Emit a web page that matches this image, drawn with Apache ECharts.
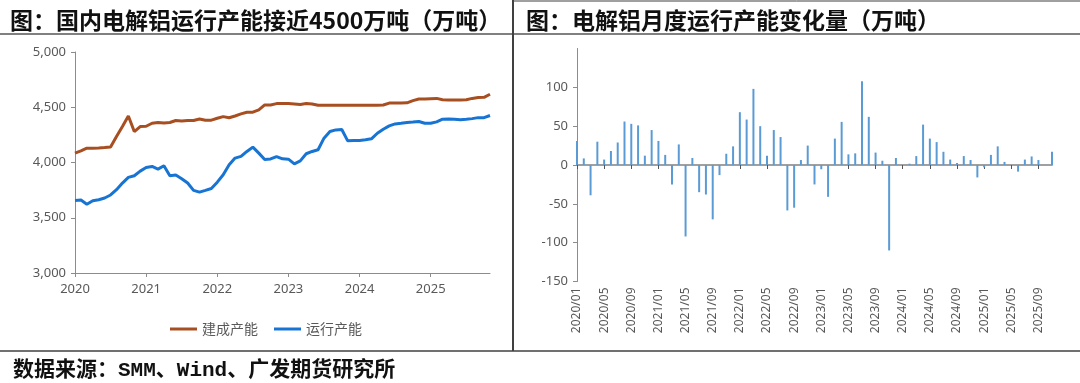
<!DOCTYPE html>
<html><head><meta charset="utf-8">
<script src="https://cdn.jsdelivr.net/npm/echarts@6/dist/echarts.min.js"></script>
<style>html,body{margin:0;padding:0;background:#fff}#c{width:1080px;height:383px}</style>
</head><body><div id="c"></div>
<script>
const months = [
'2020/01','2020/02','2020/03','2020/04','2020/05','2020/06','2020/07','2020/08','2020/09','2020/10','2020/11','2020/12',
'2021/01','2021/02','2021/03','2021/04','2021/05','2021/06','2021/07','2021/08','2021/09','2021/10','2021/11','2021/12',
'2022/01','2022/02','2022/03','2022/04','2022/05','2022/06','2022/07','2022/08','2022/09','2022/10','2022/11','2022/12',
'2023/01','2023/02','2023/03','2023/04','2023/05','2023/06','2023/07','2023/08','2023/09','2023/10','2023/11','2023/12',
'2024/01','2024/02','2024/03','2024/04','2024/05','2024/06','2024/07','2024/08','2024/09','2024/10','2024/11','2024/12',
'2025/01','2025/02','2025/03','2025/04','2025/05','2025/06','2025/07','2025/08','2025/09','2025/10','2025/11'];

const builtCapacity = [
4085,4105,4130,4130,4132,4135,4140,4235,4325,4421,4280,4325,
4328,4355,4362,4358,4362,4380,4375,4380,4380,4394,4383,4383,
4400,4415,4405,4421,4440,4455,4455,4476,4521,4521,4533,4533,
4533,4530,4525,4533,4530,4518,4518,4518,4518,4518,4518,4518,
4518,4518,4518,4518,4520,4538,4538,4538,4540,4560,4575,4575,
4578,4580,4568,4566,4566,4566,4568,4580,4588,4590,4618];

const runningCapacity = [
3657,3660,3622,3654,3663,3679,3706,3754,3814,3865,3880,3922,
3955,3964,3940,3970,3880,3886,3853,3814,3748,3732,3748,3765,
3822,3889,3979,4040,4055,4100,4139,4085,4028,4032,4054,4033,
4030,3988,4015,4079,4100,4115,4220,4280,4295,4298,4196,4199,
4200,4205,4214,4265,4301,4331,4349,4355,4362,4366,4371,4355,
4355,4368,4392,4394,4391,4386,4391,4397,4406,4406,4425];

const monthlyChange = [
31,8.5,-39,30,7,18,29,56,53,51,12,45,
31,13,-25,26.5,-92,9,-35,-38,-70,-13,14.5,24,
68,58.5,98,50,12,45,36,-58.5,-55,6.4,25,-25,
-5.5,-41,34,55.5,13.7,15,107.7,62,16,5.5,-110,9,
0,1.7,11.5,52,34,29.5,17,7,2.6,11.5,6.4,-16,
-3,13,24,4,0,-8.5,7,11,6.4,0,17];

const seriesNames = ['建成产能','运行产能'];
const titleLeft = '图：国内电解铝运行产能接近4500万吨（万吨）';
const titleRight = '图：电解铝月度运行产能变化量（万吨）';
const sourceText = '数据来源：SMM、Wind、广发期货研究所';

const chart = echarts.init(document.getElementById('c'), null, {renderer:'canvas'});
const labelColor = '#595959';
const axisColor = '#8c8c8c';
const cjk = '"Noto Sans CJK SC", "Noto Sans", sans-serif';
const yearIdx = (i) => i % 12 === 0;

const option = {
  animation: false,
  backgroundColor: '#fff',
  title: [
    {text: titleLeft, left: 5, top: 4, textStyle: {fontSize: 23, fontWeight: 'bold', color: '#111', fontFamily: cjk}},
    {text: titleRight, left: 521, top: 4, textStyle: {fontSize: 23, fontWeight: 'bold', color: '#111', fontFamily: cjk}},
    {text: sourceText, left: 8, top: 355, textStyle: {fontSize: 21, fontWeight: 'bold', color: '#111', fontFamily: '"Liberation Mono", "Noto Sans CJK SC", monospace'}}
  ],
  graphic: [
    {type: 'line', shape: {x1: 0, y1: 34, x2: 1080, y2: 34}, style: {stroke: '#808080', lineWidth: 2}, silent: true},
    {type: 'line', shape: {x1: 513, y1: 0, x2: 513, y2: 351}, style: {stroke: '#404040', lineWidth: 2}, silent: true},
    {type: 'line', shape: {x1: 0, y1: 351, x2: 1080, y2: 351}, style: {stroke: '#404040', lineWidth: 1.5}, silent: true},
    {type: 'line', shape: {x1: 513, y1: 1, x2: 1080, y2: 1}, style: {stroke: '#404040', lineWidth: 1}, silent: true}
  ],
  legend: {
    data: seriesNames, left: 165, top: 317, icon: 'rect', itemWidth: 27, itemHeight: 3, itemGap: 16,
    textStyle: {fontSize: 14, color: labelColor, fontFamily: cjk}
  },
  grid: [
    {left: 75, top: 52, width: 415, height: 221},
    {left: 577, top: 48.5, width: 475, height: 233}
  ],
  xAxis: [
    {gridIndex: 0, type: 'category', data: months, boundaryGap: false,
     axisLine: {lineStyle: {color: axisColor, width: 1}},
     axisTick: {interval: yearIdx, length: 4, lineStyle: {color: axisColor}},
     axisLabel: {interval: yearIdx, formatter: (v) => v.slice(0, 4), color: labelColor, fontSize: 13, margin: 10, fontFamily: '"Noto Sans", sans-serif'}},
    {gridIndex: 1, type: 'category', data: months, boundaryGap: false,
     axisLine: {onZero: true, lineStyle: {color: '#a0a0a0', width: 2}},
     axisTick: {interval: 3, length: 4, lineStyle: {color: '#555'}},
     axisLabel: {show: false}},
    {gridIndex: 1, type: 'category', data: months, boundaryGap: false, position: 'bottom',
     axisLine: {show: false, onZero: false}, axisTick: {show: false},
     axisLabel: {interval: 3, rotate: 90, color: labelColor, fontSize: 12, margin: 6, fontFamily: '"Noto Sans", sans-serif'}}
  ],
  yAxis: [
    {gridIndex: 0, type: 'value', min: 3000, max: 5000, interval: 500,
     axisLine: {show: true, lineStyle: {color: axisColor}},
     axisTick: {show: true, length: 4, lineStyle: {color: axisColor}},
     splitLine: {show: false},
     axisLabel: {formatter: (v) => v.toLocaleString('en-US'), color: labelColor, fontSize: 13, margin: 9, fontFamily: '"Noto Sans", sans-serif'}},
    {gridIndex: 1, type: 'value', min: -150, max: 150, interval: 50,
     axisLine: {show: true, lineStyle: {color: axisColor}},
     axisTick: {show: true, length: 4, lineStyle: {color: axisColor}},
     splitLine: {show: false},
     axisLabel: {showMaxLabel: false, color: labelColor, fontSize: 13, margin: 9, fontFamily: '"Noto Sans", sans-serif'}}
  ],
  series: [
    {name: seriesNames[0], type: 'line', xAxisIndex: 0, yAxisIndex: 0, data: builtCapacity, symbol: 'none',
     lineStyle: {color: '#A84F22', width: 3}, itemStyle: {color: '#A84F22'}},
    {name: seriesNames[1], type: 'line', xAxisIndex: 0, yAxisIndex: 0, data: runningCapacity, symbol: 'none',
     lineStyle: {color: '#1874D3', width: 3}, itemStyle: {color: '#1874D3'}},
    {name: '月度变化', type: 'bar', xAxisIndex: 1, yAxisIndex: 1, data: monthlyChange, barWidth: 2, clip: false,
     itemStyle: {color: '#5B9BD5'}}
  ]
};
chart.setOption(option);
</script>
</body></html>
